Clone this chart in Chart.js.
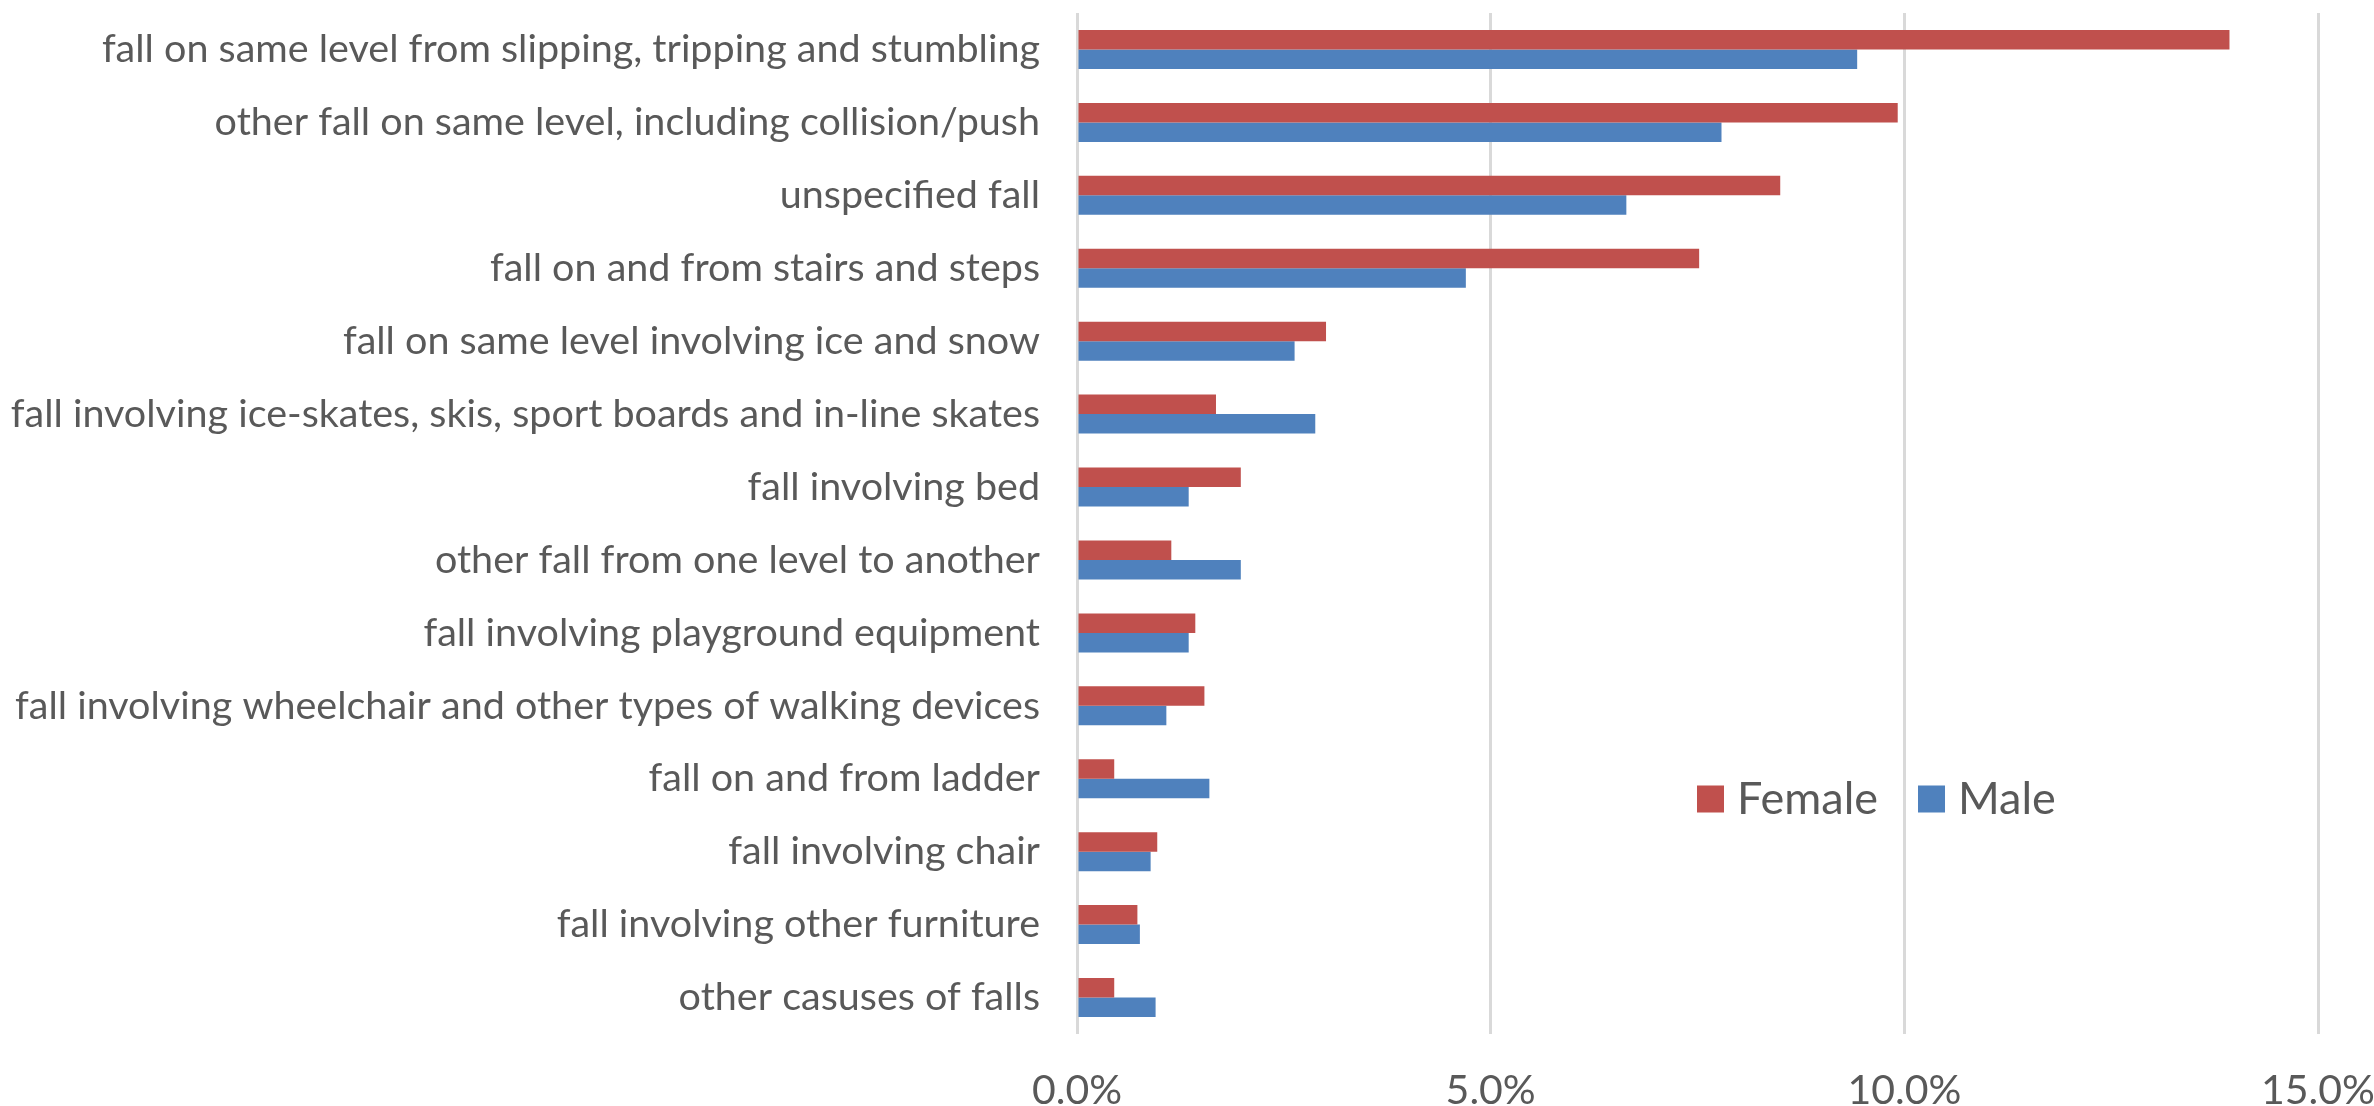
<!DOCTYPE html>
<html lang="en">
<head>
    <meta charset="UTF-8">
    <title>Falls by type and sex</title>
    <script src="https://cdn.jsdelivr.net/npm/chart.js"></script>
    <style>
        body{
            margin: 0;
            background: #ffffff;
        }
        #grafica{
            width: 2374px;
            height: 1106px;
        }
    </style>
</head>
<body>

<div id="grafica">
    <canvas id="miGrafica" width="2374" height="1106"></canvas>
</div>

<script>
    // categorias (de arriba hacia abajo)
    const causas = [
        'fall on same level from slipping, tripping and stumbling',
        'other fall on same level, including collision/push',
        'unspecified fall',
        'fall on and from stairs and steps',
        'fall on same level involving ice and snow',
        'fall involving ice-skates, skis, sport boards and in-line skates',
        'fall involving bed',
        'other fall from one level to another',
        'fall involving playground equipment',
        'fall involving wheelchair and other types of walking devices',
        'fall on and from ladder',
        'fall involving chair',
        'fall involving other furniture',
        'other casuses of falls'
    ];

    // porcentajes
    const female = [13.93, 9.92, 8.50, 7.52, 3.01, 1.68, 1.98, 1.14, 1.43, 1.54, 0.45, 0.97, 0.73, 0.45];
    const male = [9.43, 7.79, 6.64, 4.70, 2.63, 2.88, 1.35, 1.98, 1.35, 1.08, 1.60, 0.89, 0.76, 0.95];

    // eje x
    const xMin = 0;
    const xMax = 15;
    const xStep = 5;

    const gris = '#595959';
    const fuente = 'Lato, "Liberation Sans", sans-serif';

    // leyenda dibujada dentro del area del grafico (Female, Male en una fila)
    const leyendaDentro = {
        id: 'leyendaDentro',
        afterDraw(chart) {
            const c = chart.ctx;
            const caja = 27;
            let x = 1697;
            const yc = 799;
            c.save();
            c.font = '45px ' + fuente;
            c.textBaseline = 'middle';
            c.textAlign = 'left';
            chart.data.datasets.forEach(ds => {
                c.fillStyle = ds.backgroundColor;
                c.fillRect(x, yc - caja / 2, caja, caja);
                c.fillStyle = gris;
                c.fillText(ds.label, x + caja + 13, yc);
                x += caja + 13 + c.measureText(ds.label).width + 40;
            });
            c.restore();
        }
    };

    const config = {
        type: 'bar',
        data: {
            labels: causas,
            datasets: [{
                label: 'Female',
                data: female,
                backgroundColor: '#C0504D',
                borderWidth: 0
            },
            {
                label: 'Male',
                data: male,
                backgroundColor: '#4F81BD',
                borderWidth: 0
            }]
        },
        options: {
            indexAxis: 'y',
            responsive: false,
            devicePixelRatio: 1,
            animation: false,
            categoryPercentage: 0.535,
            barPercentage: 1.0,
            layout: {
                padding: { top: 13, right: 56, bottom: 0, left: 0 }
            },
            plugins: {
                tooltip: { enabled: false },
                legend: { display: false }
            },
            scales: {
                x: {
                    type: 'linear',
                    position: 'bottom',
                    min: xMin,
                    max: xMax,
                    ticks: {
                        stepSize: xStep,
                        color: gris,
                        padding: 32,
                        font: { family: fuente, size: 41 },
                        callback: v => v.toFixed(1) + '%'
                    },
                    grid: {
                        color: '#D9D9D9',
                        lineWidth: 3,
                        drawTicks: false
                    },
                    border: { display: false },
                    afterFit: s => {
                        s.height = 72;
                        s.paddingLeft = 0;
                        s.paddingRight = 0;
                    }
                },
                y: {
                    ticks: {
                        color: gris,
                        padding: 37,
                        autoSkip: false,
                        font: { family: fuente, size: 39.5 }
                    },
                    grid: { display: false, drawTicks: false },
                    border: { display: false },
                    afterFit: s => {
                        s.width = 1077;
                        s.paddingTop = 0;
                        s.paddingBottom = 0;
                    }
                }
            }
        },
        plugins: [leyendaDentro]
    };

    const ctx = document.getElementById('miGrafica').getContext('2d');
    new Chart(ctx, config);
</script>

</body>
</html>
